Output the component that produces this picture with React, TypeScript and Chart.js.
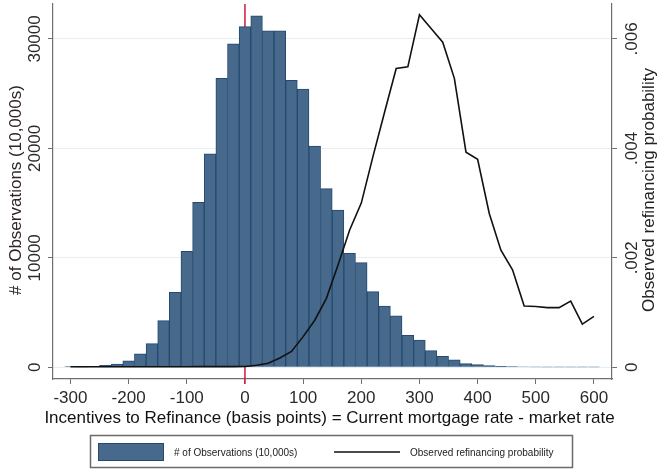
import React, { useEffect, useRef } from "react";
import { Chart, registerables } from "chart.js";

Chart.register(...registerables);

// Bin centres (basis points)
const bins: number[] = [
  -300, -280, -260, -240, -220, -200, -180, -160, -140, -120, -100, -80, -60, -40, -20,
  0, 20, 40, 60, 80, 100, 120, 140, 160, 180, 200, 220, 240, 260, 280, 300,
  320, 340, 360, 380, 400, 420, 440, 460, 480, 500, 520, 540, 560, 580, 600,
];

// # of Observations (10,000s)
const observations: number[] = [
  60, 30, 60, 180, 300, 600, 1240, 2160, 4260, 6850, 10600, 15070, 19510, 26400, 29560,
  31120, 32120, 30750, 30750, 26220, 25420, 20220, 16320, 14370, 10410, 9560, 6910, 5600, 4690, 2920, 2490,
  1520, 1000, 690, 340, 240, 150, 80, 60, 50, 45, 40, 35, 30, 30, 25,
];

// Observed refinancing probability
const refiProb: number[] = [
  0.00001, 0.00001, 0.00001, 0.00001, 0.00001, 0.00001, 0.00001, 0.00001, 0.00001, 0.00001, 0.00001, 0.000012, 0.000012, 0.000012, 0.000012,
  0.000015, 0.000036, 0.000075, 0.000170, 0.00029, 0.00056, 0.00086, 0.00126, 0.00187, 0.00251, 0.0030, 0.00385, 0.00466, 0.00546, 0.00549, 0.00644,
  0.00619, 0.00594, 0.00528, 0.00393, 0.0038, 0.00281, 0.00214, 0.00178, 0.00112, 0.00111, 0.00109, 0.00109, 0.00121, 0.00079, 0.00093,
];

const xTicks: number[] = [-300, -200, -100, 0, 100, 200, 300, 400, 500, 600];
const yLeftTicks: number[] = [0, 10000, 20000, 30000];
const yRightTicks: number[] = [0, 0.002, 0.004, 0.006];
const yRightLabels: string[] = ["0", ".002", ".004", ".006"];

const xTitle = "Incentives to Refinance (basis points) = Current mortgage rate - market rate";
const yLeftTitle = "# of Observations (10,000s)";
const yRightTitle = "Observed refinancing probability";
const legendBar = "# of Observations (10,000s)";
const legendLine = "Observed refinancing probability";

const FONT = "'Liberation Sans', Arial, sans-serif";
const BAR_FILL = "#46698c";
const BAR_EDGE = "#244a70";
const AXIS_COLOR = "#6f6f6f";

export default function App() {
  const ref = useRef<HTMLCanvasElement | null>(null);

  useEffect(() => {
    const canvas = ref.current;
    if (!canvas) return;

    const overlay = {
      id: "overlay",
      beforeDatasetsDraw(chart: any) {
        const ctx = chart.ctx;
        const x = chart.scales.x.getPixelForValue(0);
        const a = chart.chartArea;
        ctx.save();
        ctx.strokeStyle = "#d3163f";
        ctx.lineWidth = 1.5;
        ctx.beginPath();
        ctx.moveTo(x, a.top);
        ctx.lineTo(x, a.bottom + 5);
        ctx.stroke();
        ctx.restore();
      },
      afterDraw(chart: any) {
        const ctx = chart.ctx;
        const a = chart.chartArea;
        const yl = chart.scales.y;
        const yr = chart.scales.y1;
        ctx.save();
        ctx.font = `17px ${FONT}`;
        ctx.fillStyle = "#2a2a2a";
        ctx.textAlign = "center";
        ctx.textBaseline = "middle";
        yLeftTicks.forEach((v) => {
          const py = yl.getPixelForValue(v);
          ctx.save();
          ctx.translate(35, py);
          ctx.rotate(-Math.PI / 2);
          ctx.fillText(String(v), 0, 0);
          ctx.restore();
        });
        yRightTicks.forEach((v, i) => {
          const py = yr.getPixelForValue(v);
          ctx.save();
          ctx.translate(632, py);
          ctx.rotate(-Math.PI / 2);
          ctx.fillText(yRightLabels[i], 0, 0);
          ctx.restore();
        });
        const midY = 190;
        ctx.fillStyle = "#2e2424";
        ctx.save();
        ctx.translate(16, midY);
        ctx.rotate(-Math.PI / 2);
        ctx.fillText(yLeftTitle, 0, 0);
        ctx.restore();
        ctx.fillStyle = "#222";
        ctx.save();
        ctx.translate(649, midY);
        ctx.rotate(-Math.PI / 2);
        ctx.fillText(yRightTitle, 0, 0);
        ctx.restore();
        ctx.fillStyle = "#111";
        ctx.fillText(xTitle, (a.left + a.right) / 2 - 3, 418);

        // legend
        ctx.strokeStyle = "#6a6a6a";
        ctx.lineWidth = 1.5;
        ctx.strokeRect(90.5, 435.5, 482, 32);
        ctx.fillStyle = BAR_FILL;
        ctx.fillRect(98, 443.5, 66, 17);
        ctx.strokeStyle = BAR_EDGE;
        ctx.lineWidth = 1;
        ctx.strokeRect(98.5, 443.5, 65, 17);
        ctx.strokeStyle = "#111";
        ctx.lineWidth = 1.5;
        ctx.beginPath();
        ctx.moveTo(334, 452);
        ctx.lineTo(400, 452);
        ctx.stroke();
        ctx.font = `10px ${FONT}`;
        ctx.fillStyle = "#222";
        ctx.textAlign = "left";
        ctx.fillText(legendBar, 174, 453);
        ctx.fillText(legendLine, 410, 453);
        ctx.restore();
      },
    };

    const chart = new Chart(canvas, {
      type: "bar",
      data: {
        datasets: [
          {
            type: "line",
            label: legendLine,
            data: bins.map((b, i) => ({ x: b, y: refiProb[i] })),
            yAxisID: "y1",
            xAxisID: "x",
            borderColor: "#111",
            borderWidth: 1.6,
            pointRadius: 0,
            tension: 0,
            fill: false,
            order: 0,
          } as any,
          {
            type: "bar",
            label: legendBar,
            data: bins.map((b, i) => ({ x: b, y: observations[i] })),
            yAxisID: "y",
            xAxisID: "x",
            backgroundColor: BAR_FILL,
            borderColor: BAR_EDGE,
            borderWidth: 1,
            barPercentage: 1,
            categoryPercentage: 1,
            order: 1,
          } as any,
        ],
      },
      options: {
        responsive: false,
        animation: false,
        layout: { padding: { top: 4, left: 0, right: 0, bottom: 0 } },
        plugins: {
          legend: { display: false },
          tooltip: { enabled: false },
        },
        scales: {
          x: {
            type: "linear",
            min: -330,
            max: 631,
            offset: false,
            afterFit: (s: any) => {
              s.height = 91;
            },
            afterBuildTicks: (s: any) => {
              s.ticks = xTicks.map((v) => ({ value: v }));
            },
            ticks: {
              font: { family: FONT, size: 17 },
              color: "#2a2a2a",
              padding: 4,
              maxRotation: 0,
              minRotation: 0,
            },
            grid: {
              drawOnChartArea: false,
              drawTicks: true,
              tickLength: 5,
              color: AXIS_COLOR,
              tickColor: AXIS_COLOR,
              offset: false,
            },
            border: { display: true, color: AXIS_COLOR, width: 1.2 },
          } as any,
          y: {
            type: "linear",
            position: "left",
            min: -1070,
            max: 33190,
            afterFit: (s: any) => {
              s.width = 53;
            },
            afterBuildTicks: (s: any) => {
              s.ticks = yLeftTicks.map((v) => ({ value: v }));
            },
            ticks: { display: false },
            grid: {
              drawOnChartArea: true,
              drawTicks: true,
              tickLength: 5,
              color: "#e6eef1",
              tickColor: AXIS_COLOR,
            },
            border: { display: true, color: AXIS_COLOR, width: 1.2 },
          } as any,
          y1: {
            type: "linear",
            position: "right",
            min: -0.000214,
            max: 0.006638,
            afterFit: (s: any) => {
              s.width = 47;
            },
            afterBuildTicks: (s: any) => {
              s.ticks = yRightTicks.map((v) => ({ value: v }));
            },
            ticks: { display: false },
            grid: {
              drawOnChartArea: false,
              drawTicks: true,
              tickLength: 5,
              color: AXIS_COLOR,
              tickColor: AXIS_COLOR,
            },
            border: { display: true, color: AXIS_COLOR, width: 1.2 },
          } as any,
        },
      },
      plugins: [overlay],
    });

    return () => chart.destroy();
  }, []);

  return (
    <div style={{ position: "fixed", left: 0, top: 0, width: 659, height: 470, background: "#fff" }}>
      <canvas ref={ref} width={659} height={470} style={{ display: "block" }} />
    </div>
  );
}
